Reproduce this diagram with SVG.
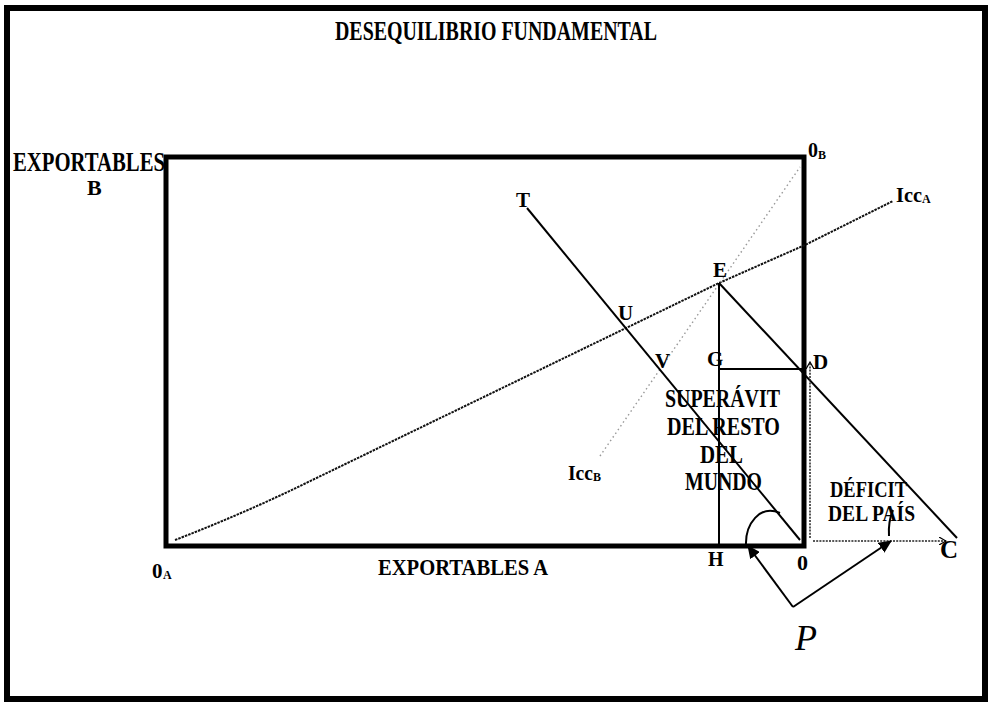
<svg xmlns="http://www.w3.org/2000/svg" width="988" height="703" viewBox="0 0 988 703">
<defs>
<style>
.t{font-family:"Liberation Serif","Times New Roman",serif;font-weight:bold;fill:#000}
.sub{font-size:12px}
.ln{stroke:#000;stroke-width:2;fill:none}
.dotA{stroke:#111;stroke-width:2;stroke-dasharray:2.5 1;fill:none}
.dotB{stroke:#999;stroke-width:1.4;stroke-dasharray:1.5 3;fill:none}
.dotC{stroke:#222;stroke-width:1.5;stroke-dasharray:2 1.2;fill:none}
</style>
<marker id="ah" markerWidth="14" markerHeight="12" refX="12" refY="6" orient="auto" markerUnits="userSpaceOnUse">
<path d="M0,0 L13,6 L0,12 Z" fill="#000"/>
</marker>
<marker id="sm" markerWidth="8" markerHeight="8" refX="7" refY="4" orient="auto" markerUnits="userSpaceOnUse">
<path d="M0,0 L7,4 L0,8" fill="none" stroke="#000" stroke-width="1.2"/>
</marker>
</defs>
<rect x="0" y="0" width="988" height="703" fill="#fff"/>
<rect id="frame" x="7" y="8" width="978" height="691" fill="none" stroke="#000" stroke-width="6"/>
<text class="t" x="335" y="40" font-size="27" textLength="322" lengthAdjust="spacingAndGlyphs">DESEQUILIBRIO FUNDAMENTAL</text>

<g id="box">
<rect x="166" y="157" width="638" height="389" fill="none" stroke="#000" stroke-width="5"/>
</g>

<g id="connectors">
<path class="dotA" d="M175,540 Q240,515 300,486 L719,283 L805,245 L893,201"/>
<path class="dotB" d="M600,456 L800,167"/>
<line class="ln" x1="527" y1="208" x2="800" y2="540"/>
<line class="ln" x1="719" y1="283" x2="957" y2="538"/>
<line class="ln" x1="719" y1="283" x2="719" y2="546"/>
<line class="ln" x1="719" y1="369" x2="803" y2="369"/>
<line class="dotC" x1="810" y1="538" x2="810" y2="362" marker-end="url(#sm)"/>
<line class="dotC" x1="813" y1="541" x2="946" y2="541" marker-end="url(#sm)"/>
<path class="ln" d="M746,546 C745,524 760,504 780,513"/>
<path class="ln" stroke-width="1.2" d="M889,536 Q888,522 893,510"/>
<line class="ln" x1="793" y1="607" x2="748" y2="546" marker-end="url(#ah)"/>
<line class="ln" x1="793" y1="607" x2="891" y2="541" marker-end="url(#ah)"/>
</g>

<g id="labels">
<text class="t" x="13" y="171" font-size="27" textLength="152" lengthAdjust="spacingAndGlyphs">EXPORTABLES</text>
<text class="t" x="87" y="195" font-size="22">B</text>
<text class="t" x="808" y="157" font-size="22" textLength="10" lengthAdjust="spacingAndGlyphs">0</text>
<text class="t sub" x="818" y="159">B</text>
<text class="t" x="896" y="202" font-size="21" textLength="26" lengthAdjust="spacingAndGlyphs">Icc</text>
<text class="t sub" x="922" y="203">A</text>
<text class="t" x="516" y="207" font-size="21">T</text>
<text class="t" x="713" y="277" font-size="21">E</text>
<text class="t" x="618" y="320" font-size="21">U</text>
<text class="t" x="655" y="368" font-size="21">V</text>
<text class="t" x="707" y="366" font-size="21">G</text>
<text class="t" x="813" y="369" font-size="21">D</text>
<text class="t" x="568" y="480" font-size="21" textLength="25" lengthAdjust="spacingAndGlyphs">Icc</text>
<text class="t sub" x="593" y="481">B</text>
<text class="t" x="708" y="566" font-size="20">H</text>
<text class="t" x="797" y="570" font-size="22">0</text>
<text class="t" x="940" y="558" font-size="25">C</text>
<text class="t" x="152" y="578" font-size="21">0</text>
<text class="t sub" x="163" y="579">A</text>
<text class="t" x="378" y="575" font-size="24" textLength="170" lengthAdjust="spacingAndGlyphs">EXPORTABLES A</text>
<text x="795" y="650" font-family="'Liberation Serif','Times New Roman',serif" font-style="italic" font-size="36">P</text>
</g>

<g id="superavit">
<text class="t" x="665" y="407" font-size="26" textLength="115" lengthAdjust="spacingAndGlyphs">SUPERÁVIT</text>
<text class="t" x="667" y="435" font-size="26" textLength="113" lengthAdjust="spacingAndGlyphs">DEL RESTO</text>
<text class="t" x="700" y="463" font-size="26" textLength="43" lengthAdjust="spacingAndGlyphs">DEL</text>
<text class="t" x="685" y="490" font-size="26" textLength="77" lengthAdjust="spacingAndGlyphs">MUNDO</text>
</g>

<g id="deficit">
<text class="t" x="830" y="497" font-size="24" textLength="77" lengthAdjust="spacingAndGlyphs">DÉFICIT</text>
<text class="t" x="828" y="521" font-size="24" textLength="87" lengthAdjust="spacingAndGlyphs">DEL PAÍS</text>
</g>
</svg>
